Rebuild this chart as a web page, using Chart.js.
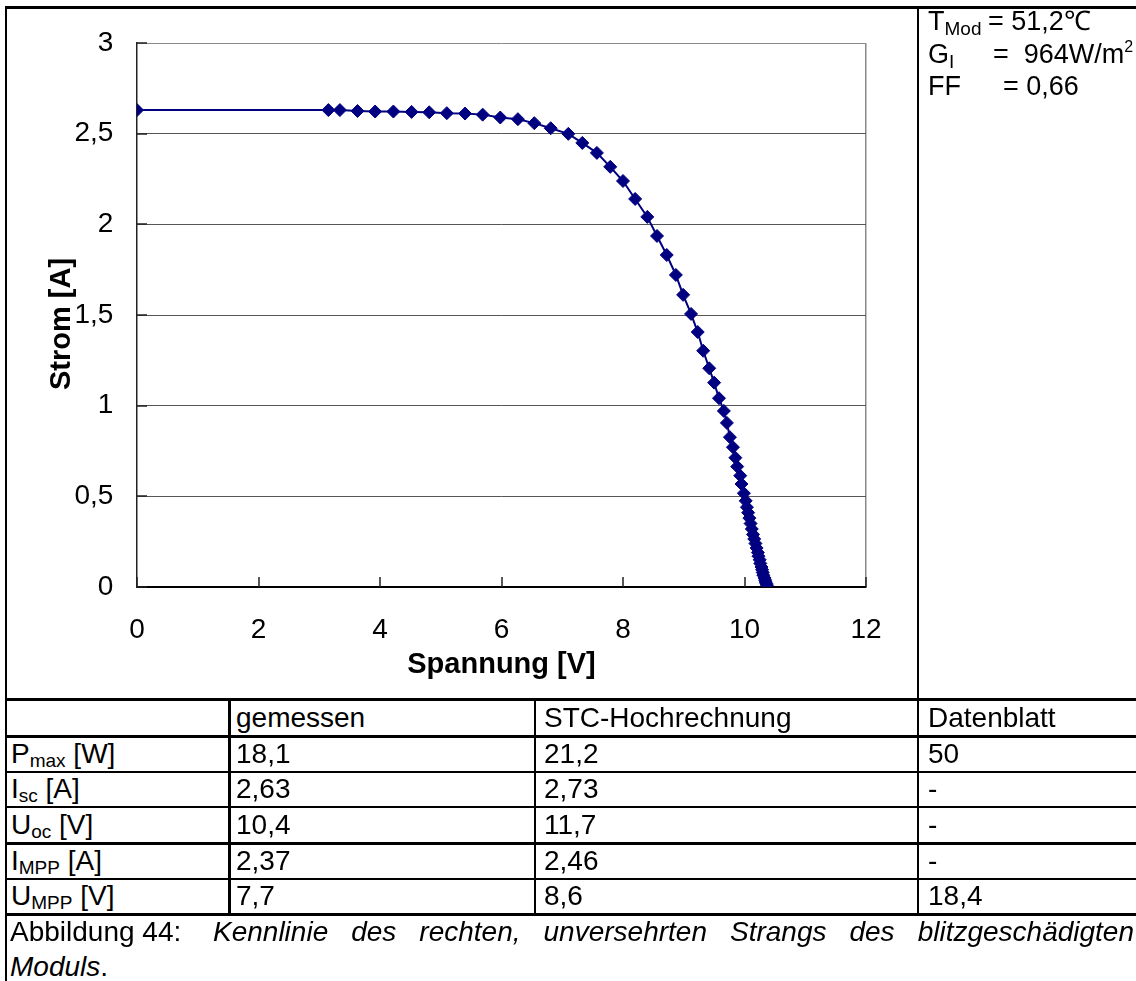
<!DOCTYPE html>
<html>
<head>
<meta charset="utf-8">
<script src="https://cdn.jsdelivr.net/npm/chart.js@4/dist/chart.umd.min.js"></script>
<style>
  html, body { margin: 0; padding: 0; background: #fff; }
  #page { position: relative; width: 1136px; height: 981px; overflow: hidden;
          font-family: "Liberation Sans", Arial, Helvetica, sans-serif; color: #000; }
  #chartBox { position: absolute; left: 0; top: 0; width: 918px; height: 699px; }
  .ln { position: absolute; background: #000; z-index: 2; }
  .t { position: absolute; white-space: pre; font-size: 28px; line-height: 28px; z-index: 3; }
  .a { position: absolute; white-space: pre; font-size: 27px; line-height: 27px; z-index: 3; }
  .sub { font-size: 19px; position: relative; top: 4px; }
  .asub { font-size: 19px; position: relative; top: 5px; }
  .asup { font-size: 16px; position: relative; top: -11px; }
  .cap1 { position: absolute; left: 10px; width: 1124px; font-size: 28px; line-height: 28px;
          text-align: justify; text-align-last: justify; white-space: normal; z-index: 3; }
  .cap2 { position: absolute; left: 10px; font-size: 28px; line-height: 28px; z-index: 3; }
  .lead { display: inline-block; width: 203px; font-style: normal; text-align: left; text-align-last: left; white-space: pre; }
  .it { font-style: italic; }
</style>
</head>
<body>
<div id="page">
  <div id="chartBox"><canvas id="iv" width="918" height="699"></canvas></div>
</div>
<script>
// I-U characteristic of the string: voltage [V] and current [A]
const voltage = [
  0, 3.15, 3.34, 3.63, 3.92, 4.22, 4.52, 4.81, 5.10, 5.40, 5.69, 5.98, 6.27, 6.54, 6.81,
  7.10, 7.33, 7.57, 7.79, 8.00, 8.20, 8.40, 8.56, 8.72, 8.87, 8.99, 9.12, 9.23, 9.32, 9.42,
  9.50, 9.58, 9.66, 9.71, 9.76, 9.81, 9.85, 9.88, 9.93, 9.95, 9.99,
  10.02, 10.04, 10.06, 10.08, 10.10, 10.12, 10.14, 10.16, 10.18, 10.20, 10.22, 10.23,
  10.25, 10.26, 10.28, 10.29, 10.30, 10.31, 10.33, 10.34, 10.35, 10.36, 10.37
];
const current = [
  2.63, 2.63, 2.63, 2.625, 2.622, 2.622, 2.620, 2.618, 2.613, 2.611, 2.605, 2.589, 2.580, 2.558, 2.530,
  2.499, 2.449, 2.394, 2.317, 2.239, 2.140, 2.041, 1.936, 1.831, 1.721, 1.611, 1.506, 1.406, 1.303, 1.206,
  1.127, 1.041, 0.971, 0.905, 0.826, 0.771, 0.713, 0.664, 0.614, 0.568, 0.517,
  0.475, 0.44, 0.41, 0.38, 0.35, 0.32, 0.29, 0.265, 0.24, 0.215, 0.19, 0.17,
  0.15, 0.13, 0.11, 0.095, 0.08, 0.065, 0.05, 0.038, 0.027, 0.018, 0.01
];
const xTickLabels = ['0', '2', '4', '6', '8', '10', '12'];
const yTickLabels = ['0', '0,5', '1', '1,5', '2', '2,5', '3'];
const xTitle = 'Spannung [V]';
const yTitle = 'Strom [A]';

// measurement conditions
const conditions = [
  { name: 'T', sub: 'Mod', eq: '= 51,2\u2103', sup: '' },
  { name: 'G', sub: 'I', eq: '=  964W/m', sup: '2' },
  { name: 'FF', sub: '', eq: '= 0,66', sup: '' }
];

// result table
const tableHead = ['', 'gemessen', 'STC-Hochrechnung', 'Datenblatt'];
const rowSymbols = [['P', 'max', ' [W]'], ['I', 'sc', ' [A]'], ['U', 'oc', ' [V]'], ['I', 'MPP', ' [A]'], ['U', 'MPP', ' [V]']];
const measured = ['18,1', '2,63', '10,4', '2,37', '7,7'];
const stcValues = ['21,2', '2,73', '11,7', '2,46', '8,6'];
const datasheet = ['50', '-', '-', '-', '18,4'];

const captionLead = 'Abbildung 44:';
const captionLine1 = 'Kennlinie des rechten, unversehrten Strangs des blitzgeschädigten';
const captionLine2 = 'Moduls';

const FONT = '"Liberation Sans", Arial, Helvetica, sans-serif';
const page = document.getElementById('page');

function addLine(x, y, w, h) {
  const d = document.createElement('div');
  d.className = 'ln';
  Object.assign(d.style, { left: x + 'px', top: y + 'px', width: w + 'px', height: h + 'px' });
  page.appendChild(d);
}
function addText(cls, x, baseline, asc, html) {
  const d = document.createElement('div');
  d.className = cls;
  d.style.left = x + 'px';
  d.style.top = (baseline - asc) + 'px';
  d.innerHTML = html;
  page.appendChild(d);
  return d;
}

// frame
addLine(5, 6, 1131, 3);
addLine(5, 6, 2, 975);
addLine(917, 6, 2, 694);

// table grid
const rowLines = [[698, 3], [735, 3], [771, 2], [806, 2], [842, 3], [878, 2], [913, 3]];
rowLines.forEach(([y, h]) => addLine(5, y, 1131, h));
addLine(228, 698, 3, 217);
addLine(534, 698, 2, 217);
addLine(917, 698, 2, 217);

// table text (baseline offset for 28px text in a 28px line box)
const ASC28 = 23.7;
const colX = [11, 236, 544, 928];
const baselines = [728, 764, 799, 835, 871, 906];
tableHead.forEach((h, c) => { if (h) addText('t', colX[c], baselines[0], ASC28, h); });
rowSymbols.forEach((s, r) => {
  const b = baselines[r + 1];
  addText('t', colX[0], b, ASC28, s[0] + '<span class="sub">' + s[1] + '</span>' + s[2]);
  addText('t', colX[1], b, ASC28, measured[r]);
  addText('t', colX[2], b, ASC28, stcValues[r]);
  addText('t', colX[3], b, ASC28, datasheet[r]);
});

// caption
addText('cap1', 10, 942, ASC28, '<span class="lead">' + captionLead + '</span><span class="it">' + captionLine1 + '</span>');
addText('cap2', 10, 977, ASC28, '<span class="it">' + captionLine2 + '</span>.');

// measurement conditions (27px text)
const ASC27 = 22.9;
const condBase = [31, 64, 96];
const condEqX = [988, 993, 1003];
conditions.forEach((c, i) => {
  addText('a', 928, condBase[i], ASC27, c.name + (c.sub ? '<span class="asub">' + c.sub + '</span>' : ''));
  addText('a', condEqX[i], condBase[i], ASC27, c.eq + (c.sup ? '<span class="asup">' + c.sup + '</span>' : ''));
});

// tick marks pointing into the plot area, and the vertical axis title
const axisDecor = {
  id: 'axisDecor',
  beforeDatasetsDraw(chart) {
    const { ctx, chartArea: a, scales: { x, y } } = chart;
    ctx.save();
    ctx.strokeStyle = '#222';
    ctx.lineWidth = 1.5;
    ctx.beginPath();
    x.ticks.forEach(t => {
      const px = Math.round(x.getPixelForValue(t.value));
      ctx.moveTo(px, a.bottom);
      ctx.lineTo(px, a.bottom - 10);
    });
    y.ticks.forEach(t => {
      const py = Math.round(y.getPixelForValue(t.value));
      ctx.moveTo(a.left, py);
      ctx.lineTo(a.left + 10, py);
    });
    ctx.stroke();
    ctx.restore();
  },
  afterDraw(chart) {
    const { ctx } = chart;
    ctx.save();
    ctx.translate(62, 324);
    ctx.rotate(-Math.PI / 2);
    ctx.font = 'bold 29px ' + FONT;
    ctx.fillStyle = '#000';
    ctx.textAlign = 'center';
    ctx.textBaseline = 'middle';
    ctx.fillText(yTitle, 0, 0);
    ctx.restore();
  }
};

const points = voltage.map((v, i) => ({ x: v, y: current[i] }));

new Chart(document.getElementById('iv'), {
  type: 'scatter',
  data: {
    datasets: [{
      data: points,
      showLine: true,
      tension: 0,
      borderColor: '#000080',
      borderWidth: 2,
      backgroundColor: '#000080',
      pointStyle: 'rectRot',
      pointRadius: 6.5,
      pointBorderWidth: 1,
      pointBorderColor: '#000080',
      pointBackgroundColor: '#000080'
    }]
  },
  options: {
    responsive: false,
    animation: false,
    devicePixelRatio: 1,
    layout: { padding: { left: 0, top: 43, right: 52, bottom: 0 } },
    plugins: { legend: { display: false }, tooltip: { enabled: false } },
    scales: {
      x: {
        type: 'linear', min: 0, max: 12,
        afterFit(s) { s.height = 112; },
        ticks: {
          stepSize: 2,
          callback: (v, i) => xTickLabels[i],
          color: '#000',
          font: { family: FONT, size: 28 },
          padding: 26.5,
          maxRotation: 0
        },
        grid: {
          drawTicks: false,
          lineWidth: 1.5,
          color: c => (c.tick && c.tick.value === 12) ? '#8a8a8a' : 'rgba(0,0,0,0)'
        },
        border: { color: '#000', width: 2 },
        title: {
          display: true, text: xTitle, color: '#000',
          font: { family: FONT, size: 29, weight: 'bold' },
          padding: { top: 0, bottom: 16.6 }
        }
      },
      y: {
        type: 'linear', min: 0, max: 3,
        afterFit(s) { s.width = 137; },
        ticks: {
          stepSize: 0.5,
          callback: (v, i) => yTickLabels[i],
          color: '#000',
          font: { family: FONT, size: 28 },
          padding: 23.7
        },
        grid: {
          drawTicks: false,
          lineWidth: 1,
          color: c => (c.tick && c.tick.value === 3) ? '#8a8a8a' : '#555'
        },
        border: { color: '#222', width: 1.5 },
        title: { display: false }
      }
    }
  },
  plugins: [axisDecor]
});
</script>
</body>
</html>
